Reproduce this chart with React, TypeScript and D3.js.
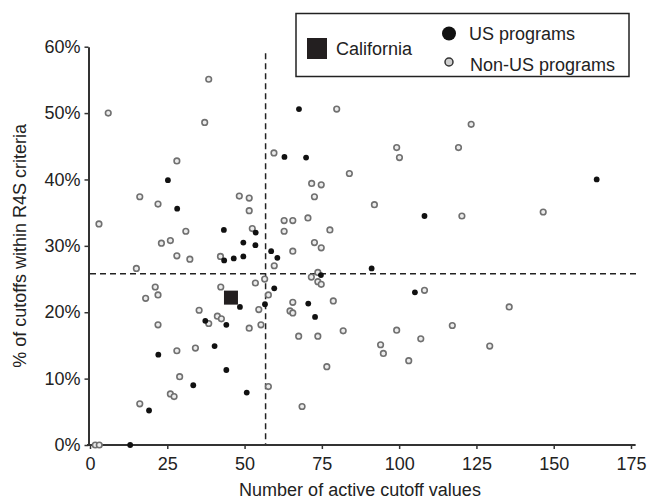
import * as d3 from 'd3';
import React, { useRef, useEffect } from 'react';

// [active cutoff values, % within R4S criteria]
const nonUsPrograms: [number, number][] = [
  [5.9, 50.0], [38.4, 55.1], [37.1, 48.6], [28.1, 42.8], [16.1, 37.4], [22.0, 36.3],
  [2.9, 33.3], [31.0, 32.2], [23.1, 30.4], [26.0, 30.8], [28.1, 28.5], [32.3, 28.0],
  [42.2, 28.4], [15.0, 26.6], [21.1, 23.8], [18.0, 22.1], [22.0, 22.6], [42.3, 23.8],
  [35.3, 20.3], [22.0, 18.1], [38.4, 18.3], [41.2, 19.4], [42.5, 19.0], [28.1, 14.2],
  [34.1, 14.6], [29.0, 10.3], [26.0, 7.7], [27.2, 7.3], [16.1, 6.2], [1.7, 0], [3.0, 0],
  [79.8, 50.6], [59.5, 44.0], [83.9, 40.9], [71.7, 39.4], [74.8, 39.2], [72.6, 37.4],
  [48.3, 37.5], [51.5, 37.2], [51.5, 35.3], [62.8, 33.8], [65.6, 33.8], [70.5, 34.2],
  [62.8, 32.2], [77.6, 32.4], [52.5, 32.6], [72.6, 30.5], [74.8, 29.7], [65.6, 29.2],
  [59.6, 27.0], [73.7, 26.0], [71.6, 25.3], [73.7, 24.6], [74.8, 24.2], [56.5, 25.0],
  [53.5, 24.4], [57.7, 22.6], [65.6, 21.5], [54.6, 20.4], [78.7, 21.7], [64.7, 20.2],
  [65.6, 19.9], [51.5, 17.6], [55.3, 18.1], [67.5, 16.4], [73.7, 16.4], [81.9, 17.2],
  [76.6, 11.8], [57.7, 8.8], [68.6, 5.8],
  [123.3, 48.3], [119.2, 44.8], [99.2, 44.8], [100.1, 43.3], [92.0, 36.2], [120.3, 34.5],
  [108.2, 23.3], [99.2, 17.3], [117.2, 18.0], [94.0, 15.1], [94.9, 13.8], [107.0, 16.0],
  [103.1, 12.7], [129.3, 14.9], [146.6, 35.1], [135.6, 20.8]
];

const usPrograms: [number, number][] = [
  [25.2, 39.9], [28.2, 35.6], [43.3, 32.4], [43.4, 27.8], [37.3, 18.7], [44.1, 18.1],
  [22.1, 13.6], [40.3, 14.9], [44.1, 11.3], [33.4, 9.0], [19.1, 5.2], [13.0, 0],
  [67.6, 50.6], [62.9, 43.4], [69.9, 43.3], [53.6, 32.0], [49.6, 30.5], [53.5, 30.1],
  [58.6, 29.2], [60.6, 28.2], [46.5, 28.1], [49.6, 28.4], [74.7, 25.6], [59.6, 23.6],
  [48.5, 20.8], [56.6, 21.2], [70.6, 21.3], [72.8, 19.3], [50.7, 7.9],
  [108.2, 34.5], [91.1, 26.6], [105.1, 23.0], [163.9, 40.0]
];

const california: [number, number] = [45.6, 22.2];
const medianCutoffs = 56.8;
const medianPercent = 25.8;

const xTicks = [0, 25, 50, 75, 100, 125, 150, 175];
const yTicks = [0, 10, 20, 30, 40, 50, 60];

const width = 652;
const height = 502;
const font = 'Liberation Sans, Arial, Helvetica, sans-serif';

export default function App() {
  const ref = useRef<SVGSVGElement>(null);

  useEffect(() => {
    const svg = d3.select(ref.current);
    svg.selectAll('*').remove();

    const x = d3.scaleLinear().domain([0, 175]).range([90, 631]);
    const y = d3.scaleLinear().domain([0, 60]).range([445, 46.7]);

    // dashed reference lines
    svg.append('line')
      .attr('x1', x(medianCutoffs)).attr('x2', x(medianCutoffs))
      .attr('y1', y(59)).attr('y2', y(0))
      .attr('stroke', '#222').attr('stroke-width', 1.5).attr('stroke-dasharray', '6,4');
    svg.append('line')
      .attr('x1', x(0)).attr('x2', x(177))
      .attr('y1', y(medianPercent)).attr('y2', y(medianPercent))
      .attr('stroke', '#222').attr('stroke-width', 1.5).attr('stroke-dasharray', '6,4');

    // axes
    const xAxis = svg.append('g')
      .attr('transform', `translate(0,${y(0)})`)
      .call(d3.axisBottom(x).tickValues(xTicks).tickSize(4).tickSizeOuter(0).tickPadding(8));
    // axis line runs a little past the last tick, like the original
    xAxis.select('.domain').attr('d', `M${x(0) - 3},0H${x(176.5)}`);
    const yAxis = svg.append('g')
      .attr('transform', `translate(${x(0) - 1.5},0)`)
      .call(d3.axisLeft(y).tickValues(yTicks).tickSize(4).tickSizeOuter(0).tickPadding(4)
        .tickFormat((d) => d + '%'));
    [xAxis, yAxis].forEach((g) => {
      g.select('.domain').attr('stroke', '#333').attr('stroke-width', 2);
      g.selectAll('.tick line').attr('stroke', '#333').attr('stroke-width', 1.5);
      g.selectAll('.tick text').attr('fill', '#222').style('font-family', font).style('font-size', '18px');
    });

    // points
    svg.append('g').selectAll('circle').data(nonUsPrograms).enter().append('circle')
      .attr('cx', (d) => x(d[0])).attr('cy', (d) => y(d[1])).attr('r', 2.8)
      .attr('fill', '#ececec').attr('stroke', '#707070').attr('stroke-width', 1.6);
    svg.append('g').selectAll('circle').data(usPrograms).enter().append('circle')
      .attr('cx', (d) => x(d[0])).attr('cy', (d) => y(d[1])).attr('r', 2.9)
      .attr('fill', '#111');
    svg.append('rect')
      .attr('x', x(california[0]) - 7).attr('y', y(california[1]) - 7)
      .attr('width', 14).attr('height', 14).attr('fill', '#231f20');

    // axis titles
    svg.append('text')
      .attr('x', 360).attr('y', 496).attr('text-anchor', 'middle')
      .style('font-family', font).style('font-size', '18px').attr('fill', '#222')
      .text('Number of active cutoff values');
    svg.append('text')
      .attr('transform', `translate(26,${(y(0) + y(60)) / 2}) rotate(-90)`)
      .attr('text-anchor', 'middle')
      .style('font-family', font).style('font-size', '18px').attr('fill', '#222')
      .text('% of cutoffs within R4S criteria');

    // legend
    const legend = svg.append('g');
    legend.append('rect')
      .attr('x', 296).attr('y', 13.5).attr('width', 333).attr('height', 63)
      .attr('fill', '#fff').attr('stroke', '#222').attr('stroke-width', 1.5);
    legend.append('rect')
      .attr('x', 307).attr('y', 38).attr('width', 20).attr('height', 21).attr('fill', '#231f20');
    legend.append('text').attr('x', 336).attr('y', 54.5).text('California');
    legend.append('circle').attr('cx', 449).attr('cy', 33.5).attr('r', 7).attr('fill', '#111');
    legend.append('text').attr('x', 469).attr('y', 39.5).text('US programs');
    legend.append('circle').attr('cx', 449).attr('cy', 62).attr('r', 4)
      .attr('fill', '#cfcfcf').attr('stroke', '#333').attr('stroke-width', 1.5);
    legend.append('text').attr('x', 470).attr('y', 71).text('Non-US programs');
    legend.selectAll('text').style('font-family', font).style('font-size', '18px').attr('fill', '#222');
  }, []);

  return (
    <svg ref={ref} width={width} height={height}
      style={{ position: 'absolute', left: 0, top: 0, background: '#fff' }} />
  );
}
